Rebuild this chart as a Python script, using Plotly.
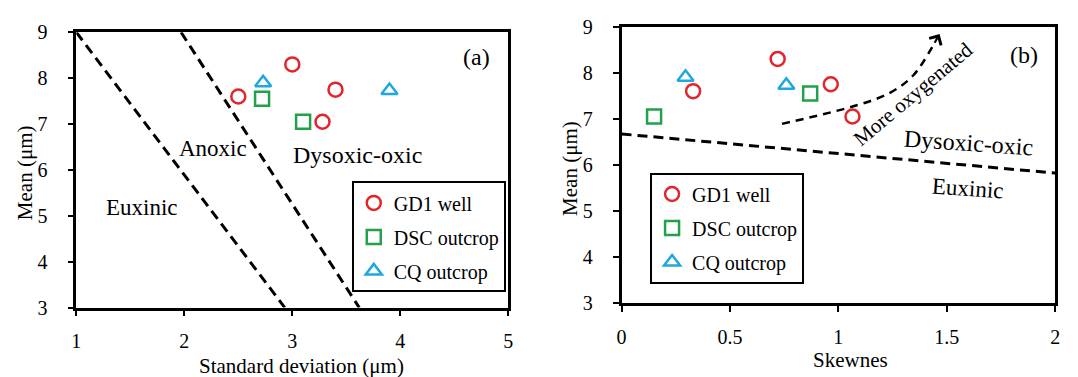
import plotly.graph_objects as go

# ---- data ----
gd1_std = [2.50, 3.00, 3.40, 3.28]
gd1_skew = [0.33, 0.72, 0.965, 1.065]
gd1_mean = [7.60, 8.30, 7.75, 7.05]

dsc_std = [2.72, 3.10]
dsc_skew = [0.87, 0.15]
dsc_mean = [7.55, 7.05]

cq_std = [2.73, 3.90]
cq_skew = [0.295, 0.76]
cq_mean = [7.90, 7.73]

# boundary lines
a_line1_x = [1.0, 2.93]
a_line1_y = [9.0, 3.0]
a_line2_x = [1.97, 3.62]
a_line2_y = [9.0, 3.0]
b_line_x = [0.0, 2.0]
b_line_y = [6.67, 5.82]
arrow_x = [0.74, 1.09, 1.24, 1.345, 1.44]
arrow_y = [6.89, 7.30, 7.57, 7.94, 8.62]
arrow_tip = (1.467, 8.84)

x_a_ticks = [1, 2, 3, 4, 5]
x_b_ticks = [0, 0.5, 1, 1.5, 2]
y_ticks = [3, 4, 5, 6, 7, 8, 9]

RED = "#e3242b"
GREEN = "#22a04b"
BLUE = "#1fa8e0"
FONT = "Liberation Serif"

fig = go.Figure()

series = [
    ("GD1 well", gd1_std, gd1_skew, gd1_mean, "circle-open", RED),
    ("DSC outcrop", dsc_std, dsc_skew, dsc_mean, "square-open", GREEN),
    ("CQ outcrop", cq_std, cq_skew, cq_mean, "triangle-up-open", BLUE),
]

dash = "10px,6px"
fig.add_trace(go.Scatter(x=a_line1_x, y=a_line1_y, mode="lines", line=dict(color="black", width=3, dash=dash),
                         showlegend=False, xaxis="x", yaxis="y", hoverinfo="skip"))
fig.add_trace(go.Scatter(x=a_line2_x, y=a_line2_y, mode="lines", line=dict(color="black", width=3, dash=dash),
                         showlegend=False, xaxis="x", yaxis="y", hoverinfo="skip"))
fig.add_trace(go.Scatter(x=b_line_x, y=b_line_y, mode="lines", line=dict(color="black", width=3, dash=dash),
                         showlegend=False, xaxis="x2", yaxis="y2", hoverinfo="skip"))
fig.add_trace(go.Scatter(x=arrow_x, y=arrow_y, mode="lines", line=dict(color="black", width=2.5, dash="8px,6px", shape="spline"),
                         showlegend=False, xaxis="x2", yaxis="y2", hoverinfo="skip"))

for i, (name, sx, kx, my, sym, col) in enumerate(series):
    fig.add_trace(go.Scatter(x=sx, y=my, mode="markers", name=name,
                             marker=dict(symbol=sym, size=14, color=col, line=dict(width=2.5, color=col)),
                             xaxis="x", yaxis="y", legend="legend", legendgroup=f"a{i}"))
    fig.add_trace(go.Scatter(x=kx, y=my, mode="markers", name=name,
                             marker=dict(symbol=sym, size=14, color=col, line=dict(width=2.5, color=col)),
                             xaxis="x2", yaxis="y2", legend="legend2", legendgroup=f"b{i}"))

axis_common = dict(showline=True, linecolor="black", linewidth=2.5, mirror=True, ticks="outside",
                   ticklen=6, tickwidth=2, tickcolor="black", showgrid=False, zeroline=False,
                   tickfont=dict(family=FONT, size=20, color="black"))

ann = []
def txt(text, x, y, xref, yref, size, angle=0, **kw):
    d = dict(text=text, x=x, y=y, xref=xref, yref=yref, showarrow=False,
             xanchor="center", yanchor="middle",
             font=dict(family=FONT, size=size, color="black"), textangle=angle)
    d.update(kw)
    ann.append(d)

# panel (a) labels
txt("(a)", 4.71, 8.47, "x", "y", 24)
txt("Anoxic", 2.27, 6.47, "x", "y", 23)
txt("Dysoxic-oxic", 3.60, 6.32, "x", "y", 24)
txt("Euxinic", 1.605, 5.19, "x", "y", 23)
# panel (b) labels
txt("(b)", 1.856, 8.39, "x2", "y2", 24)
txt("Dysoxic-oxic", 1.60, 6.48, "x2", "y2", 24, angle=4)
txt("Euxinic", 1.60, 5.48, "x2", "y2", 23, angle=4)
txt("More oxygenated", 1.345, 7.54, "x2", "y2", 21, angle=-40)
# axis titles
txt("Standard deviation (μm)", 0.2774, 0.0, "paper", "paper", 21)
txt("Skewnes", 0.7913, 0.016, "paper", "paper", 21)
txt("Mean (μm)", 0.019, 0.544, "paper", "paper", 21, angle=-90)
txt("Mean (μm)", 0.529, 0.558, "paper", "paper", 21, angle=-90)
# arrow head
ann.append(dict(x=arrow_tip[0], y=arrow_tip[1], ax=arrow_x[-1], ay=arrow_y[-1], xref="x2", yref="y2",
                axref="x2", ayref="y2", showarrow=True, arrowhead=4, arrowsize=1.2, arrowwidth=2.2,
                arrowcolor="black", text=""))

legend_common = dict(bgcolor="white", bordercolor="black", borderwidth=2,
                     font=dict(family=FONT, size=20, color="black"), tracegroupgap=5,
                     xanchor="left", yanchor="top", itemwidth=30)

fig.update_layout(
    width=1078, height=377,
    margin=dict(l=0, r=0, t=0, b=0),
    paper_bgcolor="white", plot_bgcolor="white",
    xaxis=dict(domain=[0.0668, 0.4712], range=[1, 5], tickvals=x_a_ticks, anchor="y",
               ticklabelstandoff=8, **axis_common),
    yaxis=dict(domain=[0.1645, 0.94], range=[3, 9], tickvals=y_ticks, anchor="x",
               ticklabelstandoff=16, **axis_common),
    xaxis2=dict(domain=[0.5773, 0.9833], range=[0, 2], tickvals=x_b_ticks, ticktext=["0", "0.5", "1", "1.5", "2"],
                anchor="y2", ticklabelstandoff=8, **axis_common),
    yaxis2=dict(domain=[0.1777, 0.9557], range=[3, 9], tickvals=y_ticks, anchor="x2",
                ticklabelstandoff=16, **axis_common),
    legend=dict(x=0.3247, y=0.52, **legend_common),
    legend2=dict(x=0.604, y=0.545, **legend_common),
    annotations=ann,
    showlegend=True,
)

fig.write_html("out.html")
